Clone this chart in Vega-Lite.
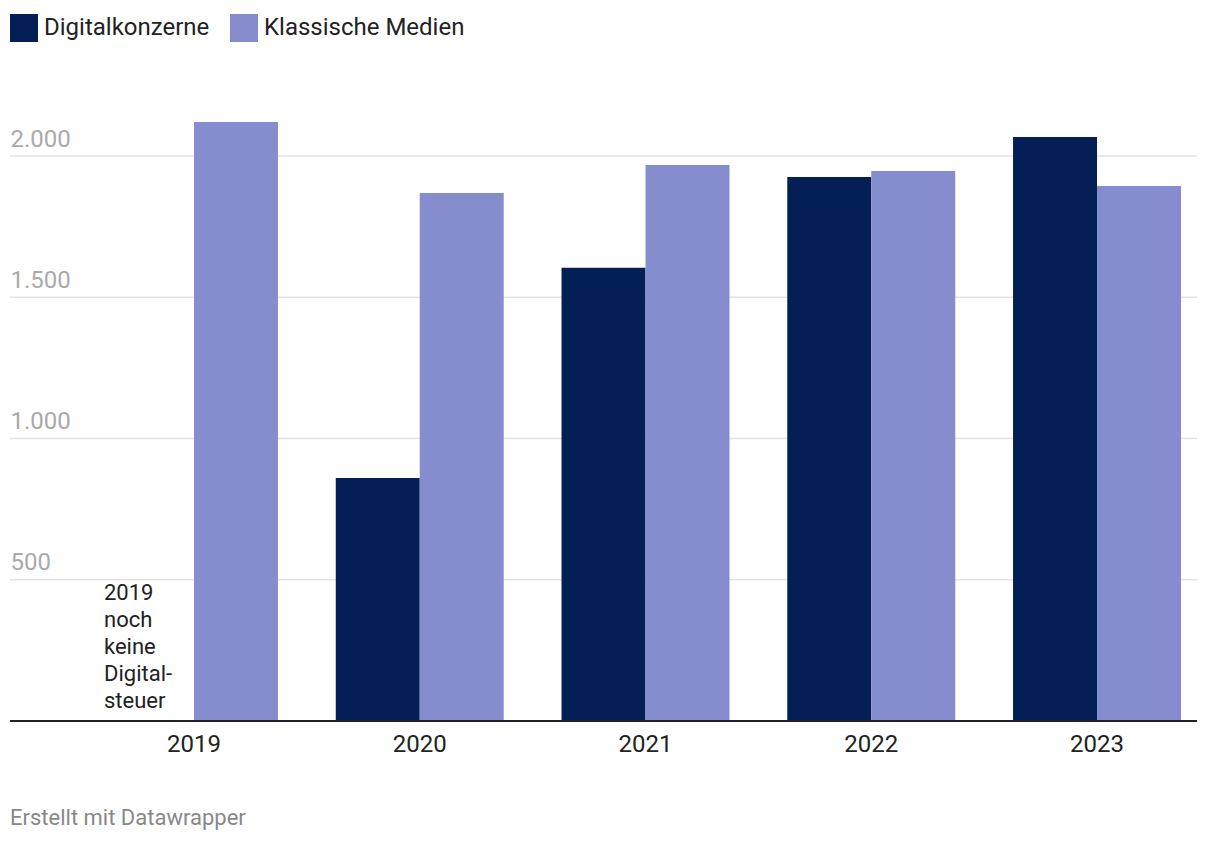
{
  "$schema": "https://vega.github.io/schema/vega-lite/v6.json",
  "width": 1187,
  "height": 621.5,
  "autosize": {"type": "none"},
  "padding": {"left": 10, "top": 99.5, "right": 23, "bottom": 123},
  "background": "white",
  "config": {
    "font": "Roboto",
    "view": {"stroke": null}
  },
  "title": {
    "text": "Erstellt mit Datawrapper",
    "orient": "bottom",
    "anchor": "start",
    "frame": "group",
    "fontSize": 22,
    "fontWeight": "normal",
    "color": "#888888",
    "font": "Roboto",
    "offset": 52
  },
  "layer": [
    {
      "data": {"values": [{"Linie": 500}, {"Linie": 1000}, {"Linie": 1500}, {"Linie": 2000}]},
      "mark": {"type": "rule", "color": "#e3e3e3", "strokeWidth": 1.5},
      "encoding": {
        "y": {"field": "Linie", "type": "quantitative"}
      }
    },
    {
      "data": {
        "values": [
          {"Jahr": "2019", "Gruppe": "Klassische Medien", "Wert": 2120},
          {"Jahr": "2020", "Gruppe": "Digitalkonzerne", "Wert": 860},
          {"Jahr": "2020", "Gruppe": "Klassische Medien", "Wert": 1869},
          {"Jahr": "2021", "Gruppe": "Digitalkonzerne", "Wert": 1604},
          {"Jahr": "2021", "Gruppe": "Klassische Medien", "Wert": 1968},
          {"Jahr": "2022", "Gruppe": "Digitalkonzerne", "Wert": 1926},
          {"Jahr": "2022", "Gruppe": "Klassische Medien", "Wert": 1947},
          {"Jahr": "2023", "Gruppe": "Digitalkonzerne", "Wert": 2067},
          {"Jahr": "2023", "Gruppe": "Klassische Medien", "Wert": 1894}
        ]
      },
      "mark": {"type": "bar"},
      "encoding": {
        "x": {
          "field": "Jahr", "type": "nominal",
          "scale": {"domain": ["2019", "2020", "2021", "2022", "2023"], "range": [100, 1171], "paddingInner": 0.256, "paddingOuter": 0},
          "axis": {
            "title": null, "labelAngle": 0, "labelFontSize": 24, "labelColor": "#222222",
            "labelPadding": 11, "ticks": false, "domain": false
          }
        },
        "xOffset": {
          "field": "Gruppe", "type": "nominal",
          "scale": {"domain": ["Digitalkonzerne", "Klassische Medien"], "paddingInner": 0, "paddingOuter": 0}
        },
        "y": {
          "field": "Wert", "type": "quantitative",
          "scale": {"domain": [0, 2200], "nice": false},
          "axis": {
            "title": null, "values": [0, 500, 1000, 1500, 2000],
            "labelExpr": "datum.value == 0 ? '' : replace(format(datum.value, ','), ',', '.')",
            "labelAlign": "left", "labelBaseline": "alphabetic", "labelOffset": -10,
            "labelPadding": 0, "ticks": false, "tickSize": 0, "domain": false, "grid": false,
            "labelFontSize": 24, "labelColor": "#aaaaaa"
          }
        },
        "color": {
          "field": "Gruppe", "type": "nominal",
          "scale": {"domain": ["Digitalkonzerne", "Klassische Medien"], "range": ["#041f55", "#858dcf"]},
          "legend": {
            "title": null, "orient": "none", "legendX": 0, "legendY": -85.5,
            "direction": "horizontal", "symbolType": "square", "symbolSize": 784,
            "symbolStrokeWidth": 0, "labelFontSize": 24, "labelColor": "#222222",
            "labelOffset": 6, "columnPadding": 20, "labelLimit": 400
          }
        }
      }
    },
    {
      "data": {"values": [{"Basis": 0}]},
      "mark": {"type": "rule", "color": "#222222", "strokeWidth": 2},
      "encoding": {
        "y": {"field": "Basis", "type": "quantitative"}
      }
    },
    {
      "data": {"values": [{"Jahr": "2019", "Gruppe": "Digitalkonzerne", "Pos": 487, "Text": "2019|noch|keine|Digital-|steuer"}]},
      "mark": {"type": "text", "align": "left", "baseline": "top", "lineBreak": "|", "lineHeight": 27, "fontSize": 22, "color": "#222222", "dx": -48},
      "encoding": {
        "x": {"field": "Jahr", "type": "nominal"},
        "xOffset": {"field": "Gruppe", "type": "nominal"},
        "y": {"field": "Pos", "type": "quantitative"},
        "text": {"field": "Text"}
      }
    }
  ]
}
